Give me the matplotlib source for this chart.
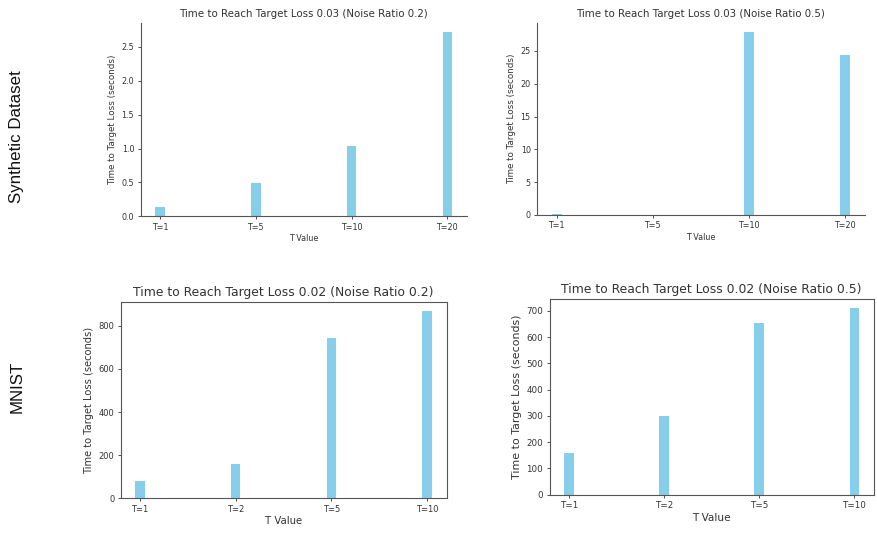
import matplotlib
matplotlib.use("Agg")
import matplotlib.pyplot as plt
import numpy as np

W, H = 877, 534

# Data
syn_labels = ["T=1", "T=5", "T=10", "T=20"]
syn_02 = [0.137, 0.496, 1.043, 2.72]
syn_05 = [0.15, 0.03, 27.9, 24.35]
mnist_labels = ["T=1", "T=2", "T=5", "T=10"]
mnist_02 = [82, 159, 743, 868]
mnist_05 = [159, 301, 655, 710]

titles = [
    "Time to Reach Target Loss 0.03 (Noise Ratio 0.2)",
    "Time to Reach Target Loss 0.03 (Noise Ratio 0.5)",
    "Time to Reach Target Loss 0.02 (Noise Ratio 0.2)",
    "Time to Reach Target Loss 0.02 (Noise Ratio 0.5)",
]
row_labels = ["Synthetic Dataset", "MNIST"]

fig = plt.figure(figsize=(W / 100, H / 100), dpi=100)

def rect(left, top, width, bottom):
    return [left / W, 1 - bottom / H, width / W, (bottom - top) / H]

txt = "#333333"
spine_c = "#555555"

# rect, labels, values, title, despine, title fs, tick fs, xlabel fs, ylabel fs
panels = [
    (rect(140.5, 22.7, 326.5, 216.3), syn_labels, syn_02, titles[0], True, 7.4, 5.8, 5.8, 6.3),
    (rect(537.0, 22.7, 327.7, 215.0), syn_labels, syn_05, titles[1], True, 7.4, 5.8, 5.8, 6.3),
    (rect(120.5, 301.7, 326.0, 498.3), mnist_labels, mnist_02, titles[2], False, 8.9, 6.0, 7.3, 7.1),
    (rect(549.5, 299.0, 324.3, 494.7), mnist_labels, mnist_05, titles[3], False, 8.9, 6.3, 7.6, 7.9),
]

for r, labels, vals, title, despine, tfs, kfs, xfs, yfs in panels:
    ax = fig.add_axes(r)
    x = np.arange(len(labels))
    ax.bar(x, vals, width=0.1, color="skyblue")
    ax.set_xticks(x)
    ax.set_xticklabels(labels)
    ax.set_title(title, fontsize=tfs, color=txt, pad=4)
    ax.set_xlabel("T Value", fontsize=xfs, color=txt, labelpad=2)
    ax.set_ylabel("Time to Target Loss (seconds)", fontsize=yfs, color=txt, labelpad=3)
    ax.tick_params(labelsize=kfs, colors=txt, length=2.5, width=0.6, pad=2)
    for s in ax.spines.values():
        s.set_color(spine_c)
        s.set_linewidth(0.8)
    if despine:
        ax.spines["top"].set_visible(False)
        ax.spines["right"].set_visible(False)

fig.text(17 / W, 1 - 137 / H, row_labels[0], rotation=90, ha="center", va="center",
         fontsize=12.2, family="Liberation Sans", color="#111111")
fig.text(17 / W, 1 - 387 / H, row_labels[1], rotation=90, ha="center", va="center",
         fontsize=12.2, family="Liberation Sans", color="#111111")

fig.savefig("out.png", dpi=100)
